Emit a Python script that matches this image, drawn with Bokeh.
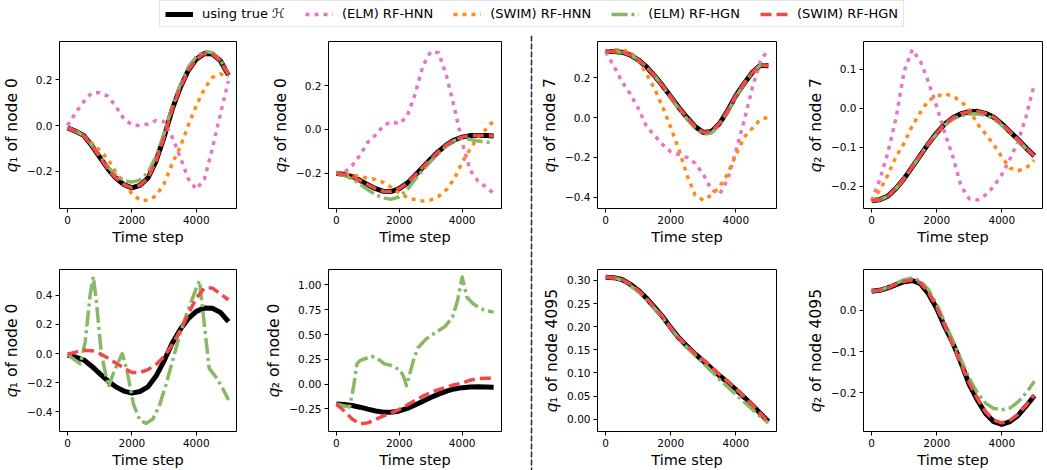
from bokeh.plotting import figure
from bokeh.layouts import row, column
from bokeh.models import Range1d, FixedTicker, Span, Legend, LegendItem
from bokeh.embed import file_html
from bokeh.resources import INLINE

# ---------------- data ----------------
T = [0, 250, 500, 750, 1000, 1250, 1500, 1750, 2000, 2250, 2500,
     2750, 3000, 3250, 3500, 3750, 4000, 4250, 4500, 4750, 5000]

# q1 of node 0
true_n0_q1 = [-0.01, -0.025, -0.043, -0.087, -0.138, -0.188, -0.229, -0.258, -0.272, -0.261, -0.229,
              -0.155, -0.05, 0.07, 0.165, 0.24, 0.29, 0.314, 0.312, 0.283, 0.22]
elm_hnn_n0_q1 = [0.0, 0.055, 0.104, 0.142, 0.143, 0.128, 0.084, 0.029, 0.003, 0.0, 0.007,
                 0.022, 0.017, -0.05, -0.138, -0.232, -0.278, -0.235, -0.1, 0.05, 0.195]
swim_hnn_n0_q1 = [-0.01, -0.022, -0.045, -0.075, -0.109, -0.145, -0.203, -0.254, -0.297, -0.326, -0.326,
                  -0.307, -0.254, -0.167, -0.094, 0.0, 0.087, 0.159, 0.21, 0.225, 0.21]
elm_hgn_n0_q1 = [-0.01, -0.025, -0.043, -0.085, -0.133, -0.18, -0.215, -0.24, -0.247, -0.238, -0.205,
                 -0.135, -0.035, 0.08, 0.175, 0.255, 0.3, 0.325, 0.318, 0.285, 0.225]
swim_hgn_n0_q1 = [-0.01, -0.025, -0.043, -0.087, -0.138, -0.188, -0.229, -0.258, -0.272, -0.261, -0.229,
                  -0.155, -0.05, 0.07, 0.165, 0.24, 0.29, 0.314, 0.312, 0.283, 0.22]

# q2 of node 0
true_n0_q2 = [-0.2, -0.205, -0.215, -0.232, -0.252, -0.27, -0.282, -0.283, -0.27, -0.245, -0.21,
              -0.172, -0.135, -0.1, -0.07, -0.048, -0.035, -0.028, -0.027, -0.028, -0.03]
elm_hnn_n0_q2 = [-0.2, -0.197, -0.165, -0.118, -0.058, -0.025, 0.018, 0.036, 0.026, 0.06, 0.16,
                 0.29, 0.355, 0.35, 0.245, 0.1, -0.06, -0.185, -0.235, -0.262, -0.292]
swim_hnn_n0_q2 = [-0.2, -0.202, -0.208, -0.215, -0.222, -0.228, -0.242, -0.265, -0.29, -0.31, -0.32,
                  -0.327, -0.322, -0.305, -0.275, -0.225, -0.15, -0.09, -0.035, 0.0, 0.04]
elm_hgn_n0_q2 = [-0.2, -0.21, -0.225, -0.25, -0.275, -0.298, -0.313, -0.318, -0.308, -0.275, -0.228,
                 -0.185, -0.145, -0.11, -0.075, -0.05, -0.04, -0.045, -0.053, -0.058, -0.06]
swim_hgn_n0_q2 = [-0.2, -0.205, -0.215, -0.232, -0.252, -0.27, -0.282, -0.283, -0.27, -0.245, -0.21,
                  -0.172, -0.135, -0.1, -0.07, -0.048, -0.035, -0.028, -0.027, -0.028, -0.03]

# q1 of node 7
true_n7_q1 = [0.332, 0.332, 0.328, 0.315, 0.29, 0.255, 0.21, 0.16, 0.105, 0.05, 0.0,
              -0.045, -0.075, -0.07, -0.03, 0.035, 0.11, 0.17, 0.225, 0.262, 0.26]
elm_hnn_n7_q1 = [0.33, 0.26, 0.18, 0.12, 0.047, -0.043, -0.09, -0.136, -0.172, -0.186, -0.2,
                 -0.23, -0.285, -0.362, -0.385, -0.31, -0.17, -0.02, 0.145, 0.28, 0.345]
swim_hnn_n7_q1 = [0.332, 0.34, 0.34, 0.33, 0.29, 0.22, 0.145, 0.055, -0.05, -0.16, -0.29,
                  -0.39, -0.415, -0.39, -0.348, -0.282, -0.19, -0.1, -0.055, -0.01, 0.002]
elm_hgn_n7_q1 = [0.332, 0.332, 0.328, 0.315, 0.29, 0.255, 0.21, 0.158, 0.1, 0.045, -0.007,
                 -0.053, -0.083, -0.078, -0.036, 0.03, 0.105, 0.168, 0.225, 0.262, 0.262]
swim_hgn_n7_q1 = [0.332, 0.332, 0.328, 0.315, 0.29, 0.255, 0.21, 0.16, 0.105, 0.05, 0.0,
                  -0.045, -0.075, -0.07, -0.03, 0.035, 0.11, 0.17, 0.225, 0.262, 0.26]

# q2 of node 7
true_n7_q2 = [-0.237, -0.234, -0.225, -0.205, -0.18, -0.15, -0.12, -0.09, -0.063, -0.04, -0.024,
              -0.014, -0.009, -0.008, -0.013, -0.023, -0.04, -0.06, -0.08, -0.102, -0.122]
elm_hnn_n7_q2 = [-0.237, -0.183, -0.113, -0.025, 0.095, 0.15, 0.12, 0.066, 0.004, -0.064, -0.125,
                 -0.2, -0.232, -0.235, -0.222, -0.2, -0.17, -0.13, -0.085, -0.02, 0.062]
swim_hnn_n7_q2 = [-0.237, -0.21, -0.17, -0.124, -0.089, -0.045, -0.01, 0.02, 0.031, 0.037, 0.031,
                  0.017, -0.003, -0.04, -0.066, -0.093, -0.125, -0.153, -0.16, -0.153, -0.133]
elm_hgn_n7_q2 = [-0.237, -0.234, -0.225, -0.205, -0.18, -0.15, -0.12, -0.09, -0.065, -0.043, -0.028,
                 -0.019, -0.015, -0.014, -0.018, -0.027, -0.043, -0.062, -0.082, -0.103, -0.123]
swim_hgn_n7_q2 = [-0.237, -0.234, -0.225, -0.205, -0.18, -0.15, -0.12, -0.09, -0.063, -0.04, -0.024,
                  -0.014, -0.009, -0.008, -0.013, -0.023, -0.04, -0.06, -0.08, -0.102, -0.122]

# bottom row, node 0 (other run)
T_elm_b_q1 = [0, 200, 400, 550, 700, 800, 900, 1050, 1270, 1450, 1700, 1850, 2050, 2250, 2450,
              2650, 2850, 3050, 3250, 3450, 3650, 3850, 4000, 4100, 4250, 4400, 4600, 4800, 5000]
elm_hgn_b_n0_q1 = [-0.005, -0.04, -0.07, 0.08, 0.4, 0.53, 0.35, 0.0, -0.23, -0.12, 0.0, -0.12, -0.35, -0.46, -0.48,
                   -0.45, -0.36, -0.22, -0.06, 0.1, 0.24, 0.36, 0.45, 0.5, 0.2, -0.1, -0.16, -0.23, -0.32]
swim_hgn_b_n0_q1 = [-0.005, 0.01, 0.023, 0.02, 0.0, -0.03, -0.065, -0.1, -0.13, -0.13, -0.11,
                    -0.075, -0.02, 0.06, 0.16, 0.27, 0.38, 0.45, 0.45, 0.41, 0.37]
T_elm_b_q2 = [0, 250, 420, 550, 655, 760, 1120, 1300, 1530, 1730, 1940, 2040, 2145, 2230, 2330,
              2450, 2600, 2860, 3170, 3450, 3690, 3850, 4000, 4150, 4350, 4600, 4800, 5000]
elm_hgn_b_n0_q2 = [-0.2, -0.22, -0.23, -0.02, 0.205, 0.24, 0.28, 0.26, 0.205, 0.19, 0.155, 0.138, 0.07, -0.015, 0.1,
                   0.24, 0.37, 0.457, 0.524, 0.58, 0.675, 0.84, 1.08, 0.877, 0.81, 0.76, 0.74, 0.726]
swim_hgn_b_n0_q2 = [-0.2, -0.27, -0.35, -0.4, -0.39, -0.355, -0.32, -0.29, -0.255, -0.21, -0.165,
                    -0.12, -0.085, -0.055, -0.03, -0.005, 0.01, 0.04, 0.055, 0.06, 0.06]

# node 4095
true_n4095_q1 = [0.307, 0.306, 0.302, 0.292, 0.279, 0.262, 0.242, 0.222, 0.198, 0.176, 0.158,
                 0.141, 0.126, 0.11, 0.094, 0.08, 0.064, 0.048, 0.031, 0.013, -0.005]
elm_hgn_n4095_q1 = [0.307, 0.306, 0.301, 0.29, 0.276, 0.259, 0.24, 0.22, 0.197, 0.175, 0.156,
                    0.138, 0.121, 0.104, 0.086, 0.07, 0.054, 0.038, 0.022, 0.006, -0.008]
swim_hgn_n4095_q1 = [0.307, 0.306, 0.302, 0.292, 0.279, 0.262, 0.242, 0.222, 0.198, 0.176, 0.158,
                     0.142, 0.128, 0.113, 0.097, 0.082, 0.066, 0.049, 0.032, 0.013, -0.006]
true_n4095_q2 = [0.047, 0.049, 0.055, 0.063, 0.07, 0.073, 0.065, 0.04, 0.005, -0.04, -0.08,
                 -0.128, -0.18, -0.218, -0.25, -0.27, -0.277, -0.27, -0.255, -0.232, -0.207]
elm_hgn_n4095_q2 = [0.047, 0.049, 0.056, 0.066, 0.075, 0.079, 0.072, 0.05, 0.015, -0.03, -0.074,
                    -0.12, -0.165, -0.2, -0.225, -0.238, -0.241, -0.237, -0.222, -0.2, -0.172]
swim_hgn_n4095_q2 = [0.047, 0.049, 0.055, 0.064, 0.071, 0.074, 0.067, 0.043, 0.008, -0.037, -0.084,
                     -0.131, -0.176, -0.214, -0.246, -0.266, -0.273, -0.267, -0.252, -0.23, -0.205]

X_TICKS = [0, 2000, 4000]
X_LABELS = ["0", "2000", "4000"]
YT_A = [-0.2, 0.0, 0.2]
YL_A = ["\u22120.2", "0.0", "0.2"]
YT_B = [-0.4, -0.2, 0.0, 0.2]
YL_B = ["\u22120.4", "\u22120.2", "0.0", "0.2"]
YT_C = [-0.2, -0.1, 0.0, 0.1]
YL_C = ["\u22120.2", "\u22120.1", "0.0", "0.1"]
YT_D = [-0.4, -0.2, 0.0, 0.2, 0.4]
YL_D = ["\u22120.4", "\u22120.2", "0.0", "0.2", "0.4"]
YT_E = [-0.25, 0.0, 0.25, 0.5, 0.75, 1.0]
YL_E = ["\u22120.25", "0.00", "0.25", "0.50", "0.75", "1.00"]
YT_F = [0.0, 0.05, 0.1, 0.15, 0.2, 0.25, 0.3]
YL_F = ["0.00", "0.05", "0.10", "0.15", "0.20", "0.25", "0.30"]
YT_G = [-0.2, -0.1, 0.0]
YL_G = ["\u22120.2", "\u22120.1", "0.0"]

LEGEND_LABELS = ["using true \u210b", "(ELM) RF-HNN", "(SWIM) RF-HNN", "(ELM) RF-HGN", "(SWIM) RF-HGN"]
X_LABEL = "Time step"

# ---------------- styles ----------------
FONT = "DejaVu Sans"
STY = {
    "true": dict(line_color="black", line_width=5),
    "elm_hnn": dict(line_color="#e377c2", line_width=3.5, line_dash="4 5"),
    "swim_hnn": dict(line_color="#ff8c1a", line_width=3.5, line_dash="4 5"),
    "elm_hgn": dict(line_color="#86b865", line_width=3.5, line_dash="16 4 3 4"),
    "swim_hgn": dict(line_color="#f24848", line_width=3.5, line_dash="11 5"),
}
ORDER = ["true", "elm_hnn", "swim_hnn", "elm_hgn", "swim_hgn"]


def panel(series, yr, yt, yl, ylab, w, h, bl, br, bt, bb):
    p = figure(width=w, height=h, x_range=Range1d(-250, 5250), y_range=Range1d(*yr),
               toolbar_location=None, output_backend="svg",
               min_border_left=bl, min_border_right=br, min_border_top=bt, min_border_bottom=bb)
    p.grid.visible = False
    p.outline_line_color = "black"
    p.outline_line_width = 1
    p.background_fill_color = "white"
    p.border_fill_color = "white"
    for key in ORDER:
        if key in series:
            xs, ys = series[key]
            p.line(xs, ys, line_join="round", **STY[key])
    for ax in (p.xaxis[0], p.yaxis[0]):
        ax.axis_line_color = None
        ax.major_tick_in = 0
        ax.major_tick_out = 4
        ax.major_tick_line_color = "black"
        ax.minor_tick_line_color = None
        ax.major_label_text_font = FONT
        ax.major_label_text_font_size = "10.5px"
        ax.major_label_text_color = "black"
        ax.major_label_standoff = 3
        ax.axis_label_text_font = FONT
        ax.axis_label_text_font_style = "normal"
        ax.axis_label_text_color = "black"
    p.xaxis[0].ticker = FixedTicker(ticks=X_TICKS)
    p.xaxis[0].major_label_overrides = dict(zip(X_TICKS, X_LABELS))
    p.xaxis[0].axis_label = X_LABEL
    p.xaxis[0].axis_label_text_font_size = "14.5px"
    p.xaxis[0].axis_label_standoff = 2
    p.yaxis[0].ticker = FixedTicker(ticks=yt)
    p.yaxis[0].major_label_overrides = dict(zip(yt, yl))
    p.yaxis[0].axis_label = ylab
    p.yaxis[0].axis_label_text_font_size = "15.5px"
    p.yaxis[0].axis_label_standoff = 3
    return p


Q1 = "\U0001D45E\u2081"
Q2 = "\U0001D45E\u2082"
LEG_H, TOP_H, BOT_H = 35, 228, 207

p1 = panel({"true": (T, true_n0_q1), "elm_hnn": (T, elm_hnn_n0_q1), "swim_hnn": (T, swim_hnn_n0_q1),
            "elm_hgn": (T, elm_hgn_n0_q1), "swim_hgn": (T, swim_hgn_n0_q1)},
           (-0.362, 0.3667), YT_A, YL_A, Q1 + " of node 0", 262, TOP_H, 57, 20, 6, 55)
p2 = panel({"true": (T, true_n0_q2), "elm_hnn": (T, elm_hnn_n0_q2), "swim_hnn": (T, swim_hnn_n0_q2),
            "elm_hgn": (T, elm_hgn_n0_q2), "swim_hgn": (T, swim_hgn_n0_q2)},
           (-0.3606, 0.4015), YT_A, YL_A, Q2 + " of node 0", 264, TOP_H, 61, 17, 6, 55)
p3 = panel({"true": (T, true_n7_q1), "elm_hnn": (T, elm_hnn_n7_q1), "swim_hnn": (T, swim_hnn_n7_q1),
            "elm_hgn": (T, elm_hgn_n7_q1), "swim_hgn": (T, swim_hgn_n7_q1)},
           (-0.4567, 0.3817), YT_B, YL_B, Q1 + " of node 7", 258, TOP_H, 61, 12, 6, 55)
p4 = panel({"true": (T, true_n7_q2), "elm_hnn": (T, elm_hnn_n7_q2), "swim_hnn": (T, swim_hnn_n7_q2),
            "elm_hgn": (T, elm_hgn_n7_q2), "swim_hgn": (T, swim_hgn_n7_q2)},
           (-0.2566, 0.1708), YT_C, YL_C, Q2 + " of node 7", 253, TOP_H, 68, 0, 6, 55)

p5 = panel({"true": (T, true_n0_q1), "elm_hgn": (T_elm_b_q1, elm_hgn_b_n0_q1), "swim_hgn": (T, swim_hgn_b_n0_q1)},
           (-0.536, 0.578), YT_D, YL_D, Q1 + " of node 0", 262, BOT_H, 57, 26, 6, 39)
p6 = panel({"true": (T, true_n0_q2), "elm_hgn": (T_elm_b_q2, elm_hgn_b_n0_q2), "swim_hgn": (T, swim_hgn_b_n0_q2)},
           (-0.477, 1.156), YT_E, YL_E, Q2 + " of node 0", 264, BOT_H, 60, 25, 6, 39)
p7 = panel({"true": (T, true_n4095_q1), "elm_hgn": (T, elm_hgn_n4095_q1), "swim_hgn": (T, swim_hgn_n4095_q1)},
           (-0.0264, 0.3236), YT_F, YL_F, Q1 + " of node 4095", 258, BOT_H, 61, 18, 6, 39)
p8 = panel({"true": (T, true_n4095_q2), "elm_hgn": (T, elm_hgn_n4095_q2), "swim_hgn": (T, swim_hgn_n4095_q2)},
           (-0.294, 0.0996), YT_G, YL_G, Q2 + " of node 4095", 253, BOT_H, 69, 5, 6, 39)

# separator
sep = figure(width=10, height=TOP_H + BOT_H, x_range=Range1d(0, 10), y_range=Range1d(0, 1),
             toolbar_location=None, output_backend="svg",
             min_border_left=0, min_border_right=0, min_border_top=0, min_border_bottom=0)
sep.axis.visible = False
sep.grid.visible = False
sep.outline_line_color = None
sep.add_layout(Span(location=5, dimension="height", line_color="#222222", line_width=1.5, line_dash="6 2"))

# legend strip
leg = figure(width=1047, height=LEG_H, x_range=Range1d(0, 1), y_range=Range1d(0, 1),
             toolbar_location=None, output_backend="svg",
             min_border_left=0, min_border_right=0, min_border_top=0, min_border_bottom=0)
leg.axis.visible = False
leg.grid.visible = False
leg.outline_line_color = None
items = []
for key, lab in zip(ORDER, LEGEND_LABELS):
    # placeholder renderer outside the visible range, only used for its legend glyph
    r = leg.line([-5, -4], [-5, -4], **STY[key])
    items.append(LegendItem(label=lab, renderers=[r]))
legend = Legend(items=items, orientation="horizontal", location=(159, 8),
                label_text_font=FONT, label_text_font_size="13px", label_text_color="black",
                glyph_width=28, glyph_height=14, label_height=14, label_standoff=9,
                spacing=20, padding=5, margin=0,
                border_line_color="#cccccc", border_line_width=1, background_fill_color="white")
leg.add_layout(legend, "center")

body = row(column(p1, p5), column(p2, p6), sep, column(p3, p7), column(p4, p8))
layout = column(leg, body)

open("out.html", "w").write(file_html(layout, INLINE))
